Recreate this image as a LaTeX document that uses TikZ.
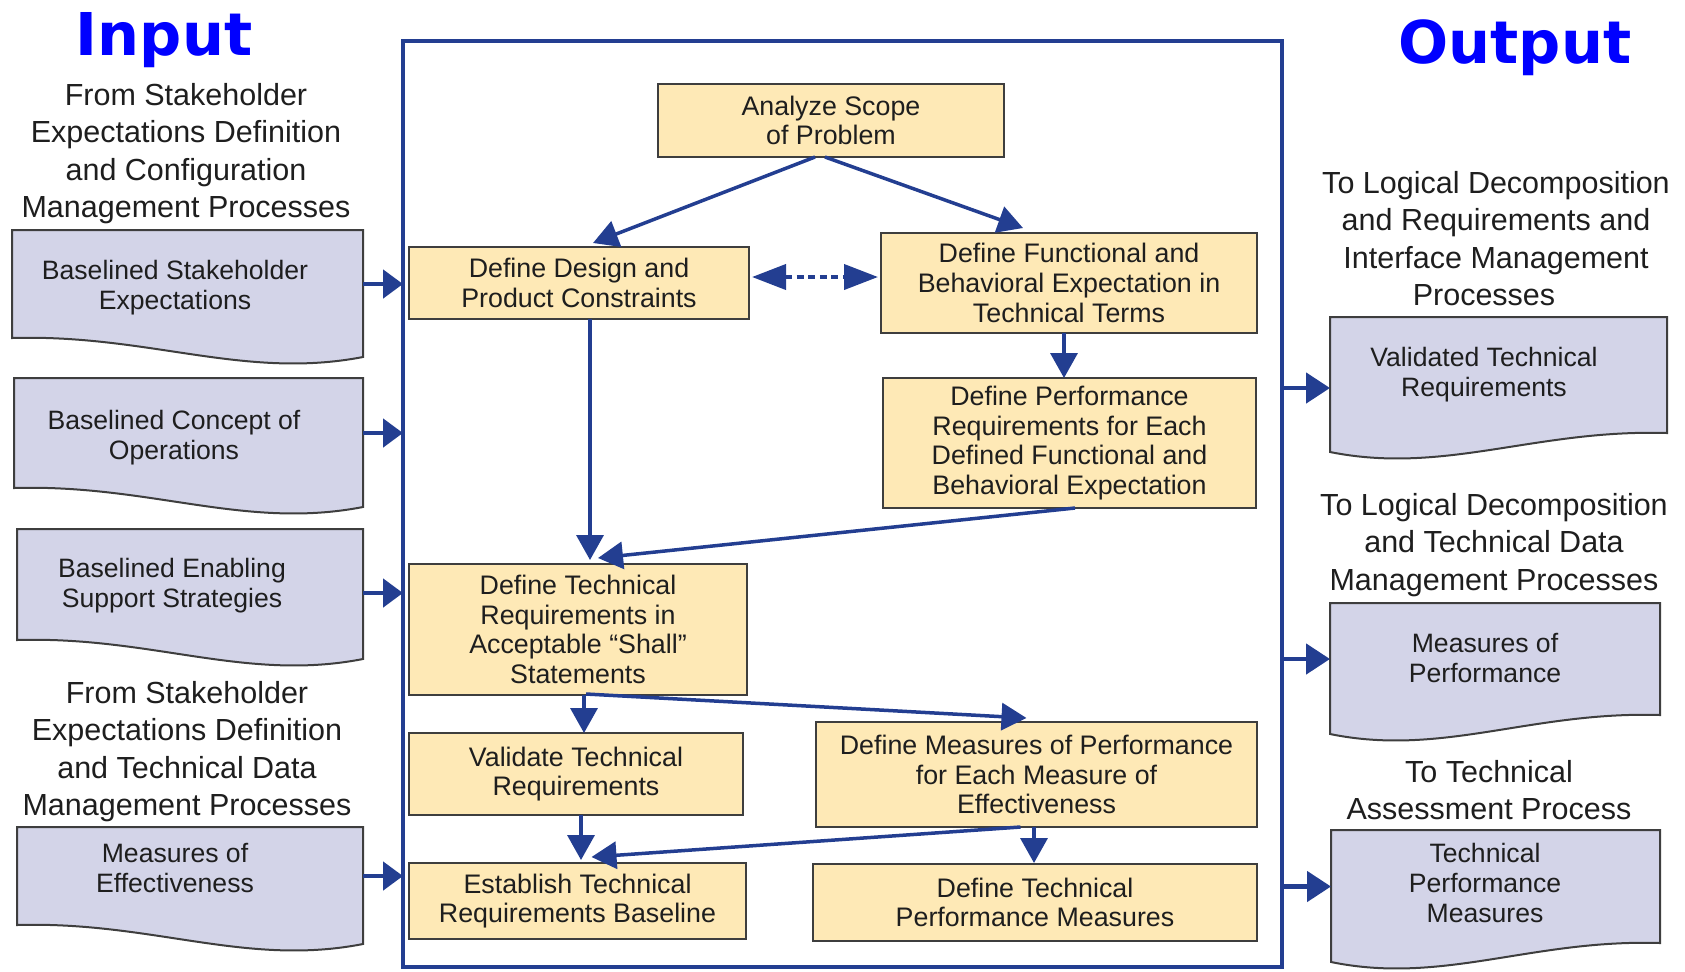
\documentclass[tikz,border=0pt]{standalone}
\usepackage{fontspec}
\setmainfont{Liberation Sans}
\newfontfamily\headfont{DejaVu Sans}
\usetikzlibrary{arrows.meta,calc}

\definecolor{flowblue}{RGB}{35,62,145}
\definecolor{stepfill}{RGB}{254,233,182}
\definecolor{docfill}{RGB}{211,212,232}
\definecolor{edgegray}{RGB}{62,62,62}
\definecolor{titleblue}{RGB}{0,0,255}
\definecolor{inktext}{RGB}{30,30,30}

% document symbol whose wavy bottom dips on the right (inputs)
\newcommand\drawindoc[1]{%
  \draw[docshape] (#1.north west) -- (#1.north east) -- ($(#1.south east)+(0,19)$)
    .. controls ($(#1.south west)!0.66!(#1.south east)+(0,42)$)
           and ($(#1.south west)!0.39!(#1.south east)+(0,-4)$) .. (#1.south west) -- cycle;}
% mirrored document symbol (outputs)
\newcommand\drawoutdoc[1]{%
  \draw[docshape] (#1.north west) -- (#1.north east) -- (#1.south east)
    .. controls ($(#1.south east)!0.39!(#1.south west)+(0,-4)$)
           and ($(#1.south east)!0.66!(#1.south west)+(0,42)$) .. ($(#1.south west)+(0,19)$) -- cycle;}

\begin{document}
\begin{tikzpicture}[x=0.5pt,y=-0.5pt,
  every node/.style={inner sep=0pt, outer sep=0pt},
  procbox/.style={draw=edgegray, line width=1.1pt, fill=stepfill, align=center, text=inktext,
    font=\fontsize{13.4pt}{14.8pt}\selectfont},
  docshape/.style={draw=edgegray, line width=1pt, fill=docfill},
  doctext/.style={anchor=north, align=center, text=inktext, font=\fontsize{13.3pt}{15pt}\selectfont},
  sidelabel/.style={anchor=north, align=center, text=inktext, font=\fontsize{15.25pt}{18.8pt}\selectfont},
  heading/.style={anchor=base, text=titleblue, font=\headfont\bfseries\fontsize{29.5pt}{30pt}\selectfont},
  flow/.style={draw=flowblue, line width=1.75pt, -{Triangle[length=12.5pt,width=13.5pt]}},
  linkflow/.style={draw=flowblue, line width=2pt, dash pattern=on 3.5pt off 2.3pt,
    {Triangle[length=17pt,width=12.5pt]}-{Triangle[length=17pt,width=12.5pt]}},
  inflow/.style={draw=flowblue, line width=2.4pt, -{Triangle[length=10pt,width=14pt]}},
  outflow/.style={draw=flowblue, line width=2.4pt, -{Triangle[length=12pt,width=15pt]}}
]
\useasboundingbox (0,0) rectangle (1685,971);

% headings
\node[heading] (intitle) at (164,55) {Input};
\node[heading] (outtitle) at (1515,63) {Output};

% process frame
\node[draw=flowblue, line width=1.6pt, minimum width=439.5pt, minimum height=463pt] (frame) at (842.5,504) {};

% process steps
\node[procbox, minimum width=173pt, minimum height=36.5pt] (scope) at (831,120.5) {Analyze Scope\\of Problem};
\node[procbox, minimum width=170pt, minimum height=36pt] (design) at (579,283) {Define Design and\\Product Constraints};
\node[procbox, minimum width=188pt, minimum height=50pt] (functional) at (1069,283) {Define Functional and\\Behavioral Expectation in\\Technical Terms};
\node[procbox, minimum width=186.5pt, minimum height=65pt] (perf) at (1069.5,443) {Define Performance\\Requirements for Each\\Defined Functional and\\Behavioral Expectation};
\node[procbox, minimum width=169pt, minimum height=65.5pt] (deftech) at (578,629.5) {Define Technical\\Requirements in\\Acceptable “Shall”\\Statements};
\node[procbox, minimum width=167pt, minimum height=41pt] (validate) at (576,774) {Validate Technical\\Requirements};
\node[procbox, minimum width=220.5pt, minimum height=52.5pt] (mop) at (1036.5,774.5) {Define Measures of Performance\\for Each Measure of\\Effectiveness};
\node[procbox, minimum width=168.5pt, minimum height=38pt] (establish) at (577.5,901) {Establish Technical\\Requirements Baseline};
\node[procbox, minimum width=222pt, minimum height=38.5pt] (tpm) at (1035,902.5) {Define Technical\\Performance Measures};

% flows between steps
\draw[flow] ($(scope.south)+(-16,0)$) -- ($(design.north)+(14,-4)$);
\draw[flow] ($(scope.south)+(-6,0)$) -- ($(functional.north)+(-46,-5)$);
\draw[linkflow] ($(design.east)+(3,-6)$) -- ($(functional.west)+(-3,-6)$);
\draw[flow] ($(functional.south)+(-5,0)$) -- ($(perf.north)+(-5.5,0)$);
\draw[flow] ($(design.south)+(11,0)$) -- ($(deftech.north)+(12,-4)$);
\draw[flow] ($(perf.south)+(5.5,0)$) -- ($(deftech.north)+(20,-6)$);
\draw[flow] ($(deftech.south)+(6,0)$) -- ($(validate.north)+(8,0)$);
\draw[flow] ($(deftech.south)+(8,-1)$) -- ($(mop.north)+(-10,-4)$);
\draw[flow] ($(validate.south)+(5,0)$) -- ($(establish.north)+(3.5,-3)$);
\draw[flow] ($(mop.south)+(-16,0)$) -- ($(establish.north)+(14,-6)$);
\draw[flow] ($(mop.south)+(-2.5,0)$) -- ($(tpm.north)+(-1,-1)$);

% input documents
\node[minimum width=175.5pt, minimum height=54pt] (inA) at (187.5,284) {};
\node[minimum width=174.5pt, minimum height=55pt] (inB) at (188.5,433) {};
\node[minimum width=173pt, minimum height=55.5pt] (inC) at (190,584.5) {};
\node[minimum width=173pt, minimum height=49pt] (inD) at (190,876) {};
\drawindoc{inA}
\drawindoc{inB}
\drawindoc{inC}
\drawindoc{inD}
\node[doctext] (inAtext) at (175,260.5) {Baselined Stakeholder\\Expectations};
\node[doctext] (inBtext) at (174,410.5) {Baselined Concept of\\Operations};
\node[doctext] (inCtext) at (172,558.5) {Baselined Enabling\\Support Strategies};
\node[doctext] (inDtext) at (175,843.5) {Measures of\\Effectiveness};

% output documents
\node[minimum width=168.5pt, minimum height=58pt] (outA) at (1498.5,375) {};
\node[minimum width=165pt, minimum height=56pt] (outB) at (1495,659) {};
\node[minimum width=164.5pt, minimum height=56.5pt] (outC) at (1495.5,886.5) {};
\drawoutdoc{outA}
\drawoutdoc{outB}
\drawoutdoc{outC}
\node[doctext] (outAtext) at (1484,347.5) {Validated Technical\\Requirements};
\node[doctext] (outBtext) at (1485,633.5) {Measures of\\Performance};
\node[doctext] (outCtext) at (1485,843.5) {Technical\\Performance\\Measures};

% source and destination labels
\node[sidelabel] (fromA) at (186,83) {From Stakeholder\\Expectations Definition\\and Configuration\\Management Processes};
\node[sidelabel] (fromB) at (187,681) {From Stakeholder\\Expectations Definition\\and Technical Data\\Management Processes};
\node[sidelabel] (toA) at (1496,171) {To Logical Decomposition\\and Requirements and\\Interface Management\\Processes\hspace*{12pt}};
\node[sidelabel] (toB) at (1494,493) {To Logical Decomposition\\and Technical Data\\Management Processes};
\node[sidelabel] (toC) at (1489,760) {To Technical\\Assessment Process};

% inputs into the process
\draw[inflow] (inA.east) -- (inA.east -| frame.west);
\draw[inflow] (inB.east) -- (inB.east -| frame.west);
\draw[inflow] ([yshift=-4.25pt]inC.east) -- ([yshift=-4.25pt]inC.east -| frame.west);
\draw[inflow] (inD.east) -- (inD.east -| frame.west);

% outputs from the process
\draw[outflow] ([yshift=-6.5pt]outA.west -| frame.east) -- ([yshift=-6.5pt]outA.west);
\draw[outflow] (outB.west -| frame.east) -- (outB.west);
\draw[outflow] (outC.west -| frame.east) -- (outC.west);
\end{tikzpicture}
\end{document}
